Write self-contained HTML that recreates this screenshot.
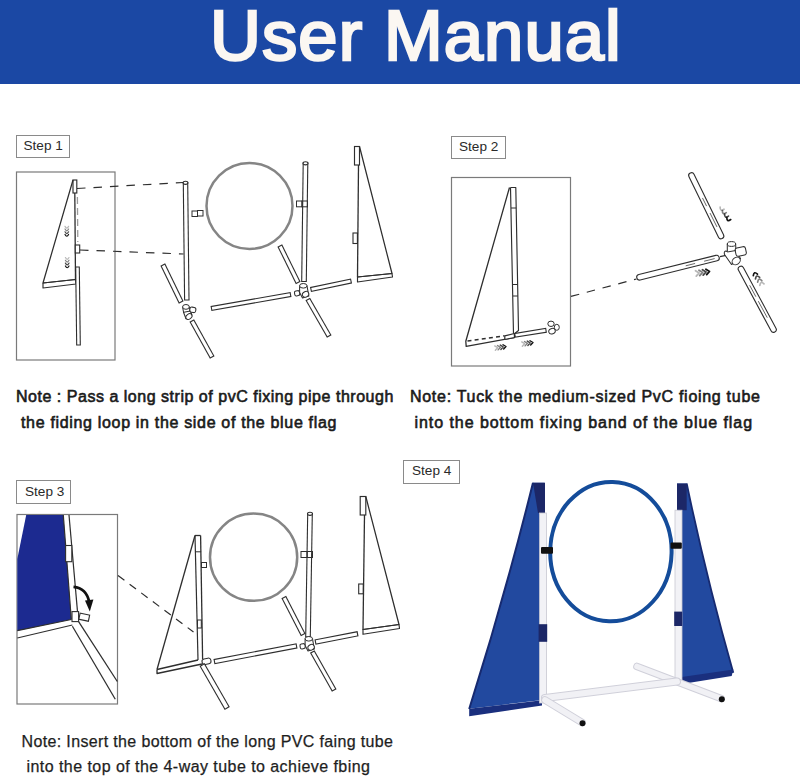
<!DOCTYPE html>
<html><head><meta charset="utf-8">
<style>
html,body{margin:0;padding:0;background:#fff;}
body{width:800px;height:777px;position:relative;overflow:hidden;font-family:"Liberation Sans",sans-serif;}
.banner{position:absolute;left:0;top:0;width:800px;height:84px;background:#1b48a4;}
.title{position:absolute;left:0;top:0;white-space:nowrap;color:#fbf7f2;font-size:70.5px;line-height:74px;-webkit-text-stroke:2.6px #fbf7f2;transform-origin:0 0;}
.step{position:absolute;border:1.3px solid #8a8a8a;box-sizing:border-box;background:#fff;}
.stxt{position:absolute;white-space:nowrap;color:#2a2a2a;font-size:13.6px;line-height:14px;}
.note{position:absolute;white-space:nowrap;color:#1a1a1a;font-size:16px;line-height:16px;-webkit-text-stroke:0.6px #1a1a1a;transform-origin:0 0;}
.n3{-webkit-text-stroke:0.25px #1e1e1e;color:#1e1e1e;}
svg{position:absolute;left:0;top:0;}
</style></head>
<body>
<div class="banner"></div>
<div class="title" id="title" style="left:210px;top:-1.5px;letter-spacing:1.1px;">User Manual</div>

<div class="step" style="left:16px;top:135px;width:54px;height:23px;"></div>
<div class="stxt" id="s1" style="left:23.5px;top:139px;">Step 1</div>
<div class="step" style="left:451px;top:136px;width:55px;height:23px;"></div>
<div class="stxt" id="s2" style="left:459px;top:140px;">Step 2</div>
<div class="step" style="left:16px;top:480px;width:55px;height:24px;"></div>
<div class="stxt" id="s3" style="left:25px;top:485px;">Step 3</div>
<div class="step" style="left:403px;top:460px;width:57px;height:24px;"></div>
<div class="stxt" id="s4" style="left:412px;top:464px;">Step 4</div>

<div class="note" id="n1a" style="left:16px;top:389px;letter-spacing:0.520px;">Note : Pass a long strip of pvC fixing pipe through</div>
<div class="note" id="n1b" style="left:21px;top:415px;letter-spacing:0.674px;">the fiding loop in the side of the blue flag</div>
<div class="note" id="n2a" style="left:410px;top:389px;letter-spacing:0.708px;">Note: Tuck the medium-sized PvC fioing tube</div>
<div class="note" id="n2b" style="left:414.5px;top:415px;letter-spacing:0.942px;">into the bottom fixing band of the blue flag</div>
<div class="note n3" id="n3a" style="left:21.5px;top:734px;letter-spacing:0.357px;">Note: Insert the bottom of the long PVC faing tube</div>
<div class="note n3" id="n3b" style="left:26.5px;top:759px;letter-spacing:0.446px;">into the top of the 4-way tube to achieve fbing</div>

<svg width="800" height="777" viewBox="0 0 800 777" id="draw">
<rect x="16.5" y="172" width="98.5" height="188" stroke="#7a7a7a" stroke-width="1.2" fill="none"/>
<polyline points="73,180 43,283 75.5,279.5" stroke="#2e2e2e" stroke-width="1.25" fill="none" stroke-linejoin="round"/>
<polyline points="43,283 43,288 76,284 75.5,279.5 43,283" stroke="#2e2e2e" stroke-width="1.15" fill="none" stroke-linejoin="round"/>
<line x1="74.8" y1="193" x2="75.5" y2="280" stroke="#2e2e2e" stroke-width="1.3" stroke-linecap="butt"/>
<rect x="73" y="180" width="3.8" height="13" stroke="#2e2e2e" stroke-width="1.15" fill="none"/>
<line x1="77.4" y1="197" x2="77.8" y2="242" stroke="#9a9a9a" stroke-width="1.3" stroke-linecap="butt" stroke-dasharray="7,4"/>
<rect x="75.3" y="245" width="4.4" height="8" stroke="#2e2e2e" stroke-width="1.1" fill="#fff"/>
<line x1="77.49" y1="266.45" x2="78.51" y2="345.55" stroke="#2e2e2e" stroke-width="4.7"/>
<line x1="77.51" y1="267.55" x2="78.49" y2="344.45" stroke="#fff" stroke-width="2.5"/>
<path d="M65.00,226.37 Q66.80,229.97 68.60,226.37" stroke="#111" stroke-opacity="0.30" stroke-width="1.15" fill="none" stroke-linecap="round"/><path d="M65.00,229.07 Q66.80,232.67 68.60,229.07" stroke="#111" stroke-opacity="0.53" stroke-width="1.15" fill="none" stroke-linecap="round"/><path d="M65.00,231.77 Q66.80,235.37 68.60,231.77" stroke="#111" stroke-opacity="0.77" stroke-width="1.15" fill="none" stroke-linecap="round"/><path d="M65.00,234.47 Q66.80,238.07 68.60,234.47" stroke="#111" stroke-opacity="1.00" stroke-width="1.15" fill="none" stroke-linecap="round"/>
<path d="M65.40,257.52 Q67.20,261.12 69.00,257.52" stroke="#111" stroke-opacity="0.30" stroke-width="1.15" fill="none" stroke-linecap="round"/><path d="M65.40,260.32 Q67.20,263.92 69.00,260.32" stroke="#111" stroke-opacity="0.53" stroke-width="1.15" fill="none" stroke-linecap="round"/><path d="M65.40,263.12 Q67.20,266.72 69.00,263.12" stroke="#111" stroke-opacity="0.77" stroke-width="1.15" fill="none" stroke-linecap="round"/><path d="M65.40,265.92 Q67.20,269.52 69.00,265.92" stroke="#111" stroke-opacity="1.00" stroke-width="1.15" fill="none" stroke-linecap="round"/>
<line x1="77" y1="188.5" x2="183" y2="182.5" stroke="#2e2e2e" stroke-width="1.2" stroke-linecap="butt" stroke-dasharray="8.5,8"/>
<line x1="80" y1="250" x2="183.5" y2="254" stroke="#2e2e2e" stroke-width="1.2" stroke-linecap="butt" stroke-dasharray="8.5,8"/>
<line x1="185.49" y1="181.95" x2="186.81" y2="300.55" stroke="#2e2e2e" stroke-width="5.5"/>
<line x1="185.51" y1="183.05" x2="186.79" y2="299.45" stroke="#fff" stroke-width="3.3000000000000003"/>
<ellipse cx="185.5" cy="182.8" rx="2.4" ry="1.6" transform="rotate(0 185.5 182.8)" stroke="#2e2e2e" stroke-width="1.1" fill="#fff"/>
<rect x="192" y="211" width="5.5" height="5.5" stroke="#2e2e2e" stroke-width="1.0" fill="none"/>
<rect x="197.5" y="210.5" width="5.5" height="5.5" stroke="#2e2e2e" stroke-width="1.0" fill="none"/>
<circle cx="249.5" cy="206" r="43" stroke="#858585" stroke-width="2.5" fill="none"/>
<line x1="162.76" y1="264.51" x2="181.24" y2="302.49" stroke="#2e2e2e" stroke-width="5.300000000000001"/>
<line x1="163.24" y1="265.49" x2="180.76" y2="301.51" stroke="#fff" stroke-width="3.1"/>
<line x1="191.73" y1="320.52" x2="212.27" y2="357.48" stroke="#2e2e2e" stroke-width="5.300000000000001"/>
<line x1="192.27" y1="321.48" x2="211.73" y2="356.52" stroke="#fff" stroke-width="3.1"/>
<path d="M182.6,307 L183.6,312.5 L186,318.8 L191.8,314.8 L190.4,311 L189.3,307 Z" stroke="#2e2e2e" stroke-width="1.05" fill="#fff" stroke-linejoin="round"/>
<ellipse cx="185.95" cy="306.9" rx="3.35" ry="2.4" transform="rotate(0 185.95 306.9)" stroke="#2e2e2e" stroke-width="1.0" fill="#fff"/>
<g transform="rotate(10 193 309.8)"><rect x="189.8" y="307.3" width="6" height="5.2" rx="2" stroke="#2e2e2e" stroke-width="1.05" fill="#fff"/></g>
<line x1="183.6" y1="312.3" x2="190.4" y2="311" stroke="#2e2e2e" stroke-width="1.0" stroke-linecap="butt"/>
<ellipse cx="188.9" cy="316.6" rx="3.4" ry="2.5" transform="rotate(-35 188.9 316.6)" stroke="#2e2e2e" stroke-width="1.0" fill="#fff"/>
<line x1="210.96" y1="308.60" x2="291.04" y2="294.40" stroke="#2e2e2e" stroke-width="5.1"/>
<line x1="212.04" y1="308.40" x2="289.96" y2="294.60" stroke="#fff" stroke-width="2.9"/>
<line x1="310.46" y1="289.61" x2="351.54" y2="280.89" stroke="#2e2e2e" stroke-width="5.1"/>
<line x1="311.54" y1="289.39" x2="350.46" y2="281.11" stroke="#fff" stroke-width="2.9"/>
<line x1="305.51" y1="162.45" x2="303.99" y2="282.05" stroke="#2e2e2e" stroke-width="5.699999999999999"/>
<line x1="305.49" y1="163.55" x2="304.01" y2="280.95" stroke="#fff" stroke-width="3.4999999999999996"/>
<ellipse cx="305.5" cy="163.3" rx="2.5" ry="1.6" transform="rotate(0 305.5 163.3)" stroke="#2e2e2e" stroke-width="1.1" fill="#fff"/>
<rect x="296.5" y="201" width="5.5" height="5.8" stroke="#2e2e2e" stroke-width="1.0" fill="#fff"/>
<rect x="302" y="201" width="5.5" height="5.8" stroke="#2e2e2e" stroke-width="1.0" fill="none"/>
<line x1="279.76" y1="245.51" x2="298.24" y2="282.99" stroke="#2e2e2e" stroke-width="5.300000000000001"/>
<line x1="280.24" y1="246.49" x2="297.76" y2="282.01" stroke="#fff" stroke-width="3.1"/>
<line x1="307.73" y1="299.02" x2="329.27" y2="336.48" stroke="#2e2e2e" stroke-width="5.300000000000001"/>
<line x1="308.27" y1="299.98" x2="328.73" y2="335.52" stroke="#fff" stroke-width="3.1"/>
<path d="M299.6,285.8 L299.6,292.5 L302.5,298 L308.8,296 L307,285.8 Z" stroke="#2e2e2e" stroke-width="1.05" fill="#fff" stroke-linejoin="round"/>
<ellipse cx="303.3" cy="285.8" rx="3.7" ry="2.3" transform="rotate(0 303.3 285.8)" stroke="#2e2e2e" stroke-width="1.0" fill="#fff"/>
<g transform="rotate(-10 297 293.3)"><rect x="294.6" y="290.8" width="5" height="5" rx="1.6" stroke="#2e2e2e" stroke-width="1.05" fill="#fff"/></g>
<ellipse cx="305.6" cy="294.3" rx="3.3" ry="2.7" transform="rotate(-30 305.6 294.3)" stroke="#2e2e2e" stroke-width="1.0" fill="#fff"/>
<polyline points="359.5,146.5 392,273.5 357.5,277" stroke="#2e2e2e" stroke-width="1.25" fill="none" stroke-linejoin="round"/>
<polygon points="357.5,277 357.5,282 392.5,277 392,273.5" stroke="#2e2e2e" stroke-width="1.15" fill="none" stroke-linejoin="round"/>
<line x1="358.5" y1="165" x2="357.5" y2="277" stroke="#2e2e2e" stroke-width="1.3" stroke-linecap="butt"/>
<rect x="354.5" y="146.5" width="5" height="18.5" stroke="#2e2e2e" stroke-width="1.15" fill="none"/>
<rect x="353" y="233" width="4.4" height="10.5" stroke="#2e2e2e" stroke-width="1.1" fill="none"/>
<rect x="451.5" y="177.5" width="119" height="188.5" stroke="#7a7a7a" stroke-width="1.2" fill="none"/>
<polyline points="509.5,187.5 465.8,341.2 466.2,346.4 514.5,337.5" stroke="#2e2e2e" stroke-width="1.3" fill="none" stroke-linejoin="round"/>
<line x1="467.5" y1="341" x2="504.5" y2="335.8" stroke="#2e2e2e" stroke-width="1.4" stroke-linecap="butt" stroke-dasharray="4,3.2"/>
<polyline points="510.5,187.5 515.8,187.5 518.5,330.5 513.5,334.5 510.5,187.5" stroke="#2e2e2e" stroke-width="1.15" fill="none" stroke-linejoin="round"/>
<line x1="511" y1="208" x2="516.2" y2="208" stroke="#2e2e2e" stroke-width="1" stroke-linecap="butt"/>
<line x1="512.8" y1="284.5" x2="517.6" y2="284.5" stroke="#2e2e2e" stroke-width="1" stroke-linecap="butt"/>
<line x1="513" y1="296" x2="517.8" y2="296" stroke="#2e2e2e" stroke-width="1" stroke-linecap="butt"/>
<polygon points="504.8,335.8 504.8,339.5 514.5,337.5 514.3,333.5" stroke="#2e2e2e" stroke-width="1.2" fill="#fff" stroke-linejoin="round"/>
<line x1="514.46" y1="335.39" x2="546.54" y2="330.21" stroke="#2e2e2e" stroke-width="4.9"/>
<line x1="515.54" y1="335.21" x2="545.46" y2="330.39" stroke="#fff" stroke-width="2.6999999999999997"/>
<ellipse cx="551" cy="323.8" rx="3.2" ry="2.7" transform="rotate(0 551 323.8)" stroke="#2e2e2e" stroke-width="1.0" fill="#fff"/>
<ellipse cx="556.8" cy="327.3" rx="2.5" ry="3" transform="rotate(0 556.8 327.3)" stroke="#2e2e2e" stroke-width="1.0" fill="#fff"/>
<ellipse cx="552" cy="331.2" rx="3.3" ry="2.7" transform="rotate(-20 552 331.2)" stroke="#2e2e2e" stroke-width="1.0" fill="#fff"/>
<polyline points="495.34,350.25 497.65,347.70 494.73,345.89" stroke="#111" stroke-opacity="0.30" stroke-width="1.4" fill="none" stroke-linejoin="round" stroke-linecap="round"/><polyline points="498.11,349.86 500.42,347.31 497.50,345.50" stroke="#111" stroke-opacity="0.53" stroke-width="1.4" fill="none" stroke-linejoin="round" stroke-linecap="round"/><polyline points="500.89,349.47 503.19,346.92 500.27,345.11" stroke="#111" stroke-opacity="0.77" stroke-width="1.4" fill="none" stroke-linejoin="round" stroke-linecap="round"/><polyline points="503.66,349.08 505.97,346.53 503.05,344.72" stroke="#111" stroke-opacity="1.00" stroke-width="1.4" fill="none" stroke-linejoin="round" stroke-linecap="round"/>
<polyline points="522.34,346.25 524.65,343.70 521.73,341.89" stroke="#111" stroke-opacity="0.30" stroke-width="1.4" fill="none" stroke-linejoin="round" stroke-linecap="round"/><polyline points="525.11,345.86 527.42,343.31 524.50,341.50" stroke="#111" stroke-opacity="0.53" stroke-width="1.4" fill="none" stroke-linejoin="round" stroke-linecap="round"/><polyline points="527.89,345.47 530.19,342.92 527.27,341.11" stroke="#111" stroke-opacity="0.77" stroke-width="1.4" fill="none" stroke-linejoin="round" stroke-linecap="round"/><polyline points="530.66,345.08 532.97,342.53 530.05,340.72" stroke="#111" stroke-opacity="1.00" stroke-width="1.4" fill="none" stroke-linejoin="round" stroke-linecap="round"/>
<line x1="571" y1="296.4" x2="636.5" y2="279" stroke="#2e2e2e" stroke-width="1.2" stroke-linecap="butt" stroke-dasharray="8.5,7.8"/>
<line x1="720" y1="256.6" x2="726" y2="255.4" stroke="#2e2e2e" stroke-width="1.1" stroke-linecap="butt"/>
<line x1="639.5" y1="277.3" x2="716.5" y2="258.1" stroke="#2e2e2e" stroke-width="6.699999999999999" stroke-linecap="round"/>
<line x1="639.5" y1="277.3" x2="716.5" y2="258.1" stroke="#fff" stroke-width="4.5" stroke-linecap="round"/>
<line x1="685.72" y1="265.8" x2="695.1" y2="263.46" stroke="#555" stroke-width="0.9" stroke-linecap="butt"/>
<line x1="704.1" y1="261.22" x2="714.65" y2="258.58" stroke="#555" stroke-width="0.9" stroke-linecap="butt"/>
<line x1="691.5" y1="175.5" x2="721" y2="236" stroke="#2e2e2e" stroke-width="6.699999999999999" stroke-linecap="round"/>
<line x1="691.5" y1="175.5" x2="721" y2="236" stroke="#fff" stroke-width="4.5" stroke-linecap="round"/>
<line x1="702.47" y1="197.94" x2="706.57" y2="206.13" stroke="#555" stroke-width="0.9" stroke-linecap="butt"/>
<line x1="710.03" y1="213.06" x2="716.96" y2="226.92" stroke="#555" stroke-width="0.9" stroke-linecap="butt"/>
<line x1="741" y1="269" x2="773.5" y2="329.5" stroke="#2e2e2e" stroke-width="6.699999999999999" stroke-linecap="round"/>
<line x1="741" y1="269" x2="773.5" y2="329.5" stroke="#fff" stroke-width="4.5" stroke-linecap="round"/>
<line x1="749.66" y1="285.28" x2="755.87" y2="296.71" stroke="#555" stroke-width="0.9" stroke-linecap="butt"/>
<line x1="758.28" y1="301.15" x2="767.25" y2="317.67" stroke="#555" stroke-width="0.9" stroke-linecap="butt"/>
<path d="M727.3,244 L727.3,251.5 Q723.5,250 724.5,254.5 L731.5,264.5 L740.5,258.5 L736,251.5 L735.6,244 Z" stroke="#2e2e2e" stroke-width="1.05" fill="#fff" stroke-linejoin="round"/>
<ellipse cx="731.5" cy="244" rx="4.2" ry="2.4" transform="rotate(0 731.5 244)" stroke="#2e2e2e" stroke-width="1.0" fill="#fff"/>
<g transform="rotate(-12 741 251.5)"><rect x="735.5" y="247.2" width="10.5" height="8.4" rx="2.2" stroke="#2e2e2e" stroke-width="1.05" fill="#fff"/></g>
<line x1="727.3" y1="252" x2="735.8" y2="250.5" stroke="#2e2e2e" stroke-width="1.0" stroke-linecap="butt"/>
<ellipse cx="736.2" cy="261" rx="4.4" ry="3.4" transform="rotate(-35 736.2 261)" stroke="#2e2e2e" stroke-width="1.0" fill="#fff"/>
<path d="M720.13,207.14 Q720.00,212.06 724.01,209.21" stroke="#111" stroke-opacity="0.30" stroke-width="1.7" fill="none" stroke-linecap="round"/><path d="M722.36,210.58 Q722.24,215.50 726.25,212.65" stroke="#111" stroke-opacity="0.53" stroke-width="1.7" fill="none" stroke-linecap="round"/><path d="M724.59,214.02 Q724.47,218.94 728.48,216.09" stroke="#111" stroke-opacity="0.77" stroke-width="1.7" fill="none" stroke-linecap="round"/><path d="M726.83,217.46 Q726.70,222.38 730.71,219.53" stroke="#111" stroke-opacity="1.00" stroke-width="1.7" fill="none" stroke-linecap="round"/>
<polyline points="696.27,276.03 699.11,272.91 695.52,270.68" stroke="#111" stroke-opacity="0.30" stroke-width="1.8" fill="none" stroke-linejoin="round" stroke-linecap="round"/><polyline points="699.74,275.54 702.57,272.42 698.99,270.20" stroke="#111" stroke-opacity="0.53" stroke-width="1.8" fill="none" stroke-linejoin="round" stroke-linecap="round"/><polyline points="703.20,275.06 706.04,271.93 702.45,269.71" stroke="#111" stroke-opacity="0.77" stroke-width="1.8" fill="none" stroke-linejoin="round" stroke-linecap="round"/><polyline points="706.67,274.57 709.50,271.44 705.92,269.22" stroke="#111" stroke-opacity="1.00" stroke-width="1.8" fill="none" stroke-linejoin="round" stroke-linecap="round"/>
<path d="M757.45,274.14 Q753.88,270.76 753.31,275.64" stroke="#111" stroke-opacity="1.00" stroke-width="1.7" fill="none" stroke-linecap="round"/><path d="M759.63,277.37 Q756.06,273.99 755.49,278.88" stroke="#111" stroke-opacity="0.77" stroke-width="1.7" fill="none" stroke-linecap="round"/><path d="M761.81,280.60 Q758.24,277.22 757.67,282.11" stroke="#111" stroke-opacity="0.53" stroke-width="1.7" fill="none" stroke-linecap="round"/><path d="M763.99,283.84 Q760.42,280.46 759.86,285.34" stroke="#111" stroke-opacity="0.30" stroke-width="1.7" fill="none" stroke-linecap="round"/>
<rect x="17" y="514.5" width="100.5" height="189.5" stroke="#7a7a7a" stroke-width="1.2" fill="none"/>
<polygon points="26.2,515 63.3,515 71.3,619.5 17.3,630.7 17.3,559" fill="#1c2a90"/>
<line x1="63.3" y1="515" x2="71.3" y2="619.5" stroke="#2e2e2e" stroke-width="1.2" stroke-linecap="butt"/>
<line x1="69" y1="515" x2="77.5" y2="611.6" stroke="#2e2e2e" stroke-width="1.2" stroke-linecap="butt"/>
<rect x="65.6" y="545.5" width="6.2" height="16.2" stroke="#2e2e2e" stroke-width="1.1" fill="#fff"/>
<line x1="17.3" y1="630.7" x2="71.3" y2="619.5" stroke="#2e2e2e" stroke-width="1.2" stroke-linecap="butt"/>
<line x1="17.3" y1="638" x2="72.4" y2="625" stroke="#2e2e2e" stroke-width="1.2" stroke-linecap="butt"/>
<rect x="72" y="611.6" width="6.6" height="10" stroke="#2e2e2e" stroke-width="1.1" fill="#fff"/>
<line x1="78.96" y1="616.09" x2="89.54" y2="618.31" stroke="#2e2e2e" stroke-width="7.300000000000001"/>
<line x1="80.04" y1="616.31" x2="88.46" y2="618.09" stroke="#fff" stroke-width="5.1"/>
<line x1="72.4" y1="626.2" x2="115.3" y2="699.3" stroke="#2e2e2e" stroke-width="1.25" stroke-linecap="butt"/>
<line x1="78.6" y1="621.7" x2="117.3" y2="681.5" stroke="#2e2e2e" stroke-width="1.25" stroke-linecap="butt"/>
<path d="M73.5,586.8 Q86.5,588 89.2,602" stroke="#111" stroke-width="2.7" fill="none"/>
<polygon points="85,600.5 93.4,599.5 89.8,611.5" fill="#111"/>
<line x1="118" y1="575.5" x2="193.5" y2="632" stroke="#2e2e2e" stroke-width="1.2" stroke-linecap="butt" stroke-dasharray="8,6.5"/>
<line x1="195.8" y1="551.8" x2="201.2" y2="551.8" stroke="#2e2e2e" stroke-width="1.0" stroke-linecap="butt"/>
<line x1="195" y1="535.5" x2="157" y2="669.5" stroke="#2e2e2e" stroke-width="1.3" stroke-linecap="butt"/>
<polyline points="157,669.5 157,673.5 202,664" stroke="#2e2e2e" stroke-width="1.3" fill="none" stroke-linejoin="round"/>
<line x1="157" y1="669.5" x2="198" y2="660" stroke="#2e2e2e" stroke-width="1.3" stroke-linecap="butt"/>
<line x1="195" y1="535.5" x2="200.6" y2="535.5" stroke="#2e2e2e" stroke-width="1.3" stroke-linecap="butt"/>
<line x1="195" y1="535.5" x2="198" y2="660" stroke="#2e2e2e" stroke-width="1.2" stroke-linecap="butt"/>
<line x1="200.6" y1="535.5" x2="202.6" y2="659" stroke="#2e2e2e" stroke-width="1.3" stroke-linecap="butt"/>
<rect x="197.5" y="620" width="3.8" height="8" stroke="#2e2e2e" stroke-width="1.0" fill="none"/>
<rect x="201.5" y="562.5" width="5" height="5" stroke="#2e2e2e" stroke-width="1.0" fill="#fff"/>
<g transform="rotate(-12 206.5 661.3)"><rect x="202" y="658.5" width="9" height="5.6" rx="2.6" stroke="#2e2e2e" stroke-width="1.05" fill="#fff"/></g>
<line x1="202.03" y1="664.52" x2="227.27" y2="708.48" stroke="#2e2e2e" stroke-width="5.9"/>
<line x1="202.57" y1="665.48" x2="226.73" y2="707.52" stroke="#fff" stroke-width="3.6999999999999997"/>
<circle cx="253.6" cy="557.2" r="43.6" stroke="#858585" stroke-width="2.5" fill="none"/>
<line x1="310.01" y1="512.95" x2="307.99" y2="637.55" stroke="#2e2e2e" stroke-width="5.699999999999999"/>
<line x1="309.99" y1="514.05" x2="308.01" y2="636.45" stroke="#fff" stroke-width="3.4999999999999996"/>
<ellipse cx="310" cy="513.8" rx="2.5" ry="1.6" transform="rotate(0 310 513.8)" stroke="#2e2e2e" stroke-width="1.1" fill="#fff"/>
<rect x="301" y="551.5" width="6" height="6" stroke="#2e2e2e" stroke-width="1.0" fill="#fff"/>
<rect x="307" y="551.5" width="5.5" height="6" stroke="#2e2e2e" stroke-width="1.0" fill="none"/>
<line x1="213.96" y1="661.60" x2="297.04" y2="645.90" stroke="#2e2e2e" stroke-width="5.300000000000001"/>
<line x1="215.04" y1="661.40" x2="295.96" y2="646.10" stroke="#fff" stroke-width="3.1"/>
<line x1="314.96" y1="642.11" x2="358.04" y2="633.69" stroke="#2e2e2e" stroke-width="5.300000000000001"/>
<line x1="316.04" y1="641.89" x2="356.96" y2="633.91" stroke="#fff" stroke-width="3.1"/>
<line x1="283.75" y1="597.01" x2="303.25" y2="634.99" stroke="#2e2e2e" stroke-width="5.300000000000001"/>
<line x1="284.25" y1="597.99" x2="302.75" y2="634.01" stroke="#fff" stroke-width="3.1"/>
<line x1="312.23" y1="651.52" x2="334.27" y2="690.48" stroke="#2e2e2e" stroke-width="5.300000000000001"/>
<line x1="312.77" y1="652.48" x2="333.73" y2="689.52" stroke="#fff" stroke-width="3.1"/>
<g transform="translate(5.5 353)">
<path d="M299.6,285.8 L299.6,292.5 L302.5,298 L308.8,296 L307,285.8 Z" stroke="#2e2e2e" stroke-width="1.05" fill="#fff" stroke-linejoin="round"/>
<ellipse cx="303.3" cy="285.8" rx="3.7" ry="2.3" transform="rotate(0 303.3 285.8)" stroke="#2e2e2e" stroke-width="1.0" fill="#fff"/>
<g transform="rotate(-10 297 293.3)"><rect x="294.6" y="290.8" width="5" height="5" rx="1.6" stroke="#2e2e2e" stroke-width="1.05" fill="#fff"/></g>
<ellipse cx="305.6" cy="294.3" rx="3.3" ry="2.7" transform="rotate(-30 305.6 294.3)" stroke="#2e2e2e" stroke-width="1.0" fill="#fff"/>
</g>
<polyline points="365.8,496.5 399,624.5 363,629.5" stroke="#2e2e2e" stroke-width="1.25" fill="none" stroke-linejoin="round"/>
<polygon points="363,629.5 363,634.3 399.5,628.5 399,624.5" stroke="#2e2e2e" stroke-width="1.15" fill="none" stroke-linejoin="round"/>
<line x1="364.5" y1="515" x2="363" y2="630" stroke="#2e2e2e" stroke-width="1.3" stroke-linecap="butt"/>
<rect x="360.2" y="496.5" width="5.6" height="18.5" stroke="#2e2e2e" stroke-width="1.15" fill="none"/>
<rect x="358.7" y="584" width="4.6" height="9.8" stroke="#2e2e2e" stroke-width="1.1" fill="none"/>
<ellipse cx="610.9" cy="551.6" rx="60.7" ry="69.7" transform="rotate(1.5 610.9 551.6)" stroke="#144c9a" stroke-width="4" fill="none"/>
<path d="M533,482.7 L544.5,482.7 L544.5,513 L540.3,513 L540.3,700.3 L469.2,708.7 Q505,596 533,482.7 Z" fill="#22499f"/>
<polygon points="469.2,708.7 542,700.3 542,705.4 469.2,716.2" fill="#1a2f7e"/>
<polygon points="533,482.7 545,482.7 545,513 538,513" fill="#1c2767"/>
<path d="M533,482.7 Q505,596 469.2,709" stroke="#172a70" stroke-width="2" fill="none"/>
<rect x="539.5" y="513" width="7" height="190" fill="#f2f2f6" stroke="#c8c8d2" stroke-width="0.8"/>
<rect x="538.6" y="624.2" width="8.6" height="17.6" fill="#1c2767"/>
<rect x="541" y="547" width="12" height="6.8" fill="#111" rx="1"/>
<path d="M677,483.5 L686.7,483.5 Q706.5,578.5 733.3,672.7 L681.8,681 Z" fill="#22499f"/>
<path d="M686.7,483.5 Q706.5,578.5 733.3,672.7" stroke="#172a70" stroke-width="1.8" fill="none"/>
<polygon points="681.8,677 733.3,669.5 731.7,676 681.8,684" fill="#1a2f7e"/>
<polygon points="677,483.5 686.7,483.5 686.7,510.2 677,510.2" fill="#1c2767"/>
<rect x="675" y="510.2" width="7" height="172" fill="#f2f2f6" stroke="#c8c8d2" stroke-width="0.8"/>
<rect x="674.2" y="611.6" width="8" height="14.4" fill="#1c2767"/>
<rect x="670.6" y="542.4" width="11.2" height="6.4" fill="#111" rx="1"/>
<line x1="637" y1="666.5" x2="721" y2="698.5" stroke="#d0d0da" stroke-width="7.6" stroke-linecap="round"/>
<line x1="637" y1="666.5" x2="721" y2="698.5" stroke="#f1f1f5" stroke-width="5.6" stroke-linecap="round"/>
<line x1="545" y1="698" x2="677" y2="681.5" stroke="#d0d0da" stroke-width="8" stroke-linecap="round"/>
<line x1="545" y1="698" x2="677" y2="681.5" stroke="#f1f1f5" stroke-width="6" stroke-linecap="round"/>
<line x1="545" y1="700" x2="582" y2="722.5" stroke="#d0d0da" stroke-width="7.6" stroke-linecap="round"/>
<line x1="545" y1="700" x2="582" y2="722.5" stroke="#f1f1f5" stroke-width="5.6" stroke-linecap="round"/>
<circle cx="582.5" cy="723.3" r="3" fill="#111"/>
<circle cx="721.8" cy="699.3" r="3" fill="#111"/>
</svg>
</body></html>
